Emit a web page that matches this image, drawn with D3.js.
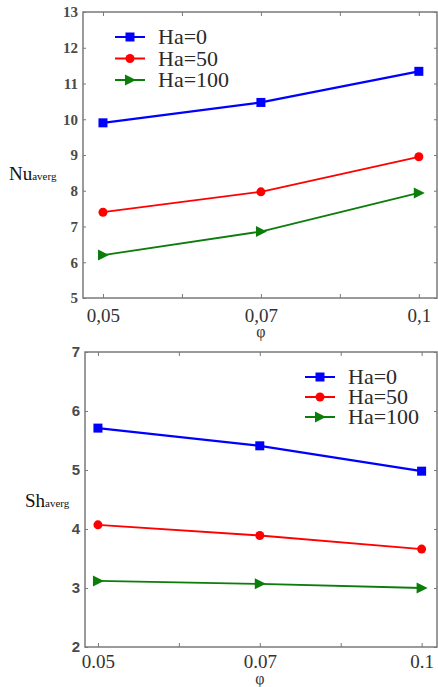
<!DOCTYPE html>
<html><head><meta charset="utf-8">
<script src="https://cdn.jsdelivr.net/npm/d3@7"></script>
<style>body{margin:0;background:#fff}svg{display:block}
.serif{font-family:"Liberation Serif","DejaVu Serif","Times New Roman",serif}
.sans{font-family:"Liberation Sans","DejaVu Sans",Arial,sans-serif}</style>
</head><body>
<svg id="c" width="438" height="687"></svg>
<script>
// ---- data ----
const phiLabelsTop = ["0,05", "0,07", "0,1"];
const phiLabelsBottom = ["0.05", "0.07", "0.1"];
const phiIndex = [0, 2, 4];           // category positions (minor ticks in between)
const seriesNames = ["Ha=0", "Ha=50", "Ha=100"];
const nuHa0 = [9.9, 10.47, 11.34];
const nuHa50 = [7.4, 7.97, 8.95];
const nuHa100 = [6.2, 6.86, 7.94];
const shHa0 = [5.71, 5.41, 4.98];
const shHa50 = [4.07, 3.89, 3.66];
const shHa100 = [3.12, 3.07, 3.0];
const nuTicks = [5, 6, 7, 8, 9, 10, 11, 12, 13];
const shTicks = [2, 3, 4, 5, 6, 7];

const colors = ["#0000ff", "#ff0000", "#0a7d0a"];
const symbols = ["square", "circle", "triangle"];

const svg = d3.select("#c");

function marker(g, type, color) {
  if (type === "square") {
    g.append("rect").attr("x", -4.5).attr("y", -4.5).attr("width", 9).attr("height", 9).attr("fill", color);
  } else if (type === "circle") {
    g.append("circle").attr("r", 4.5).attr("fill", color);
  } else {
    g.append("path").attr("d", "M-5,-5.5L6,0L-5,5.5Z").attr("fill", color);
  }
}

function panel(o) {
  const x = d3.scaleLinear().domain(o.xdom).range([o.left, o.right]);
  const y = d3.scaleLinear().domain(o.ydom).range([o.bottom, o.top]);
  const g = svg.append("g");
  const axCol = "#7a7a7a";
  g.append("rect").attr("x", o.left).attr("y", o.top).attr("width", o.right - o.left)
    .attr("height", o.bottom - o.top).attr("fill", "none").attr("stroke", axCol).attr("stroke-width", 1.5);
  const xb = g.append("g").attr("transform", `translate(0,${o.bottom})`)
    .call(d3.axisBottom(x).tickValues([0,1,2,3,4]).tickSize(-4).tickSizeOuter(0)
      .tickFormat(d => { const k = phiIndex.indexOf(d); return k >= 0 ? o.xlabels[k] : ""; }));
  xb.select(".domain").remove();
  xb.selectAll(".tick line").attr("stroke", axCol);
  xb.selectAll("text").attr("class", "serif").attr("font-family", null).attr("font-size", 19)
    .attr("fill", "#333").attr("y", o.xLabelDy).attr("dy", 0);
  const xt = g.append("g").attr("transform", `translate(0,${o.top})`)
    .call(d3.axisTop(x).tickValues([0,1,2,3,4]).tickSize(-4).tickSizeOuter(0).tickFormat(""));
  xt.select(".domain").remove();
  xt.selectAll(".tick line").attr("stroke", axCol);
  const yl = g.append("g").attr("transform", `translate(${o.left},0)`)
    .call(d3.axisLeft(y).tickValues(o.yticks).tickSize(-3).tickSizeOuter(0).tickPadding(5)
      .tickFormat(d3.format("d")));
  yl.select(".domain").remove();
  yl.selectAll(".tick line").attr("stroke", axCol);
  yl.selectAll("text").attr("class", o.yFontClass).attr("font-family", null).attr("font-size", o.yFontSize)
    .attr("font-weight", "bold").attr("fill", "#4a4a4a");
  const yr = g.append("g").attr("transform", `translate(${o.right},0)`)
    .call(d3.axisRight(y).tickValues(o.yticks).tickSize(-3).tickSizeOuter(0).tickFormat(""));
  yr.select(".domain").remove();
  yr.selectAll(".tick line").attr("stroke", axCol);
  const line = d3.line().x((d, i) => x(phiIndex[i])).y(d => y(d));
  o.series.forEach((s, k) => {
    g.append("path").datum(s).attr("d", line).attr("fill", "none")
      .attr("stroke", colors[k]).attr("stroke-width", k === 0 ? 2.2 : 1.8);
    s.forEach((v, i) => {
      marker(g.append("g").attr("transform", `translate(${x(phiIndex[i])},${y(v)})`), symbols[k], colors[k]);
    });
  });
  seriesNames.forEach((n, k) => {
    const ly = o.legY + k * o.legStep;
    g.append("line").attr("x1", o.legX).attr("x2", o.legX + 30).attr("y1", ly).attr("y2", ly)
      .attr("stroke", colors[k]).attr("stroke-width", 2);
    marker(g.append("g").attr("transform", `translate(${o.legX + 15},${ly})`), symbols[k], colors[k]);
    g.append("text").attr("class", "serif").attr("x", o.legX + 43).attr("y", ly + 7).text(n)
      .attr("font-size", 22).attr("fill", "#2a2a2a");
  });
  const t = g.append("text").attr("class", "serif").attr("x", o.ylabX).attr("y", o.ylabY).attr("fill", "#111");
  t.append("tspan").attr("font-size", 19).text(o.ylabMain);
  t.append("tspan").attr("font-size", 11).text("averg");
  g.append("text").attr("class", "serif").attr("x", x(2)).attr("y", o.phiY).attr("text-anchor", "middle")
    .attr("font-size", 16).attr("fill", "#333").text("φ");
}

panel({
  left: 83, right: 437, top: 12, bottom: 298,
  xdom: [-0.253, 4.23], ydom: [5, 13], yticks: nuTicks,
  xlabels: phiLabelsTop, xLabelDy: 24, yFontClass: "serif", yFontSize: 15,
  series: [nuHa0, nuHa50, nuHa100],
  legX: 115, legY: 37, legStep: 21.5,
  ylabX: 9, ylabY: 180, ylabMain: "Nu", phiY: 337
});
panel({
  left: 85, right: 437, top: 352, bottom: 647,
  xdom: [-0.16, 4.19], ydom: [2, 7], yticks: shTicks,
  xlabels: phiLabelsBottom, xLabelDy: 21, yFontClass: "sans", yFontSize: 15,
  series: [shHa0, shHa50, shHa100],
  legX: 305, legY: 377, legStep: 20,
  ylabX: 25, ylabY: 507, ylabMain: "Sh", phiY: 684
});
</script>
</body></html>
